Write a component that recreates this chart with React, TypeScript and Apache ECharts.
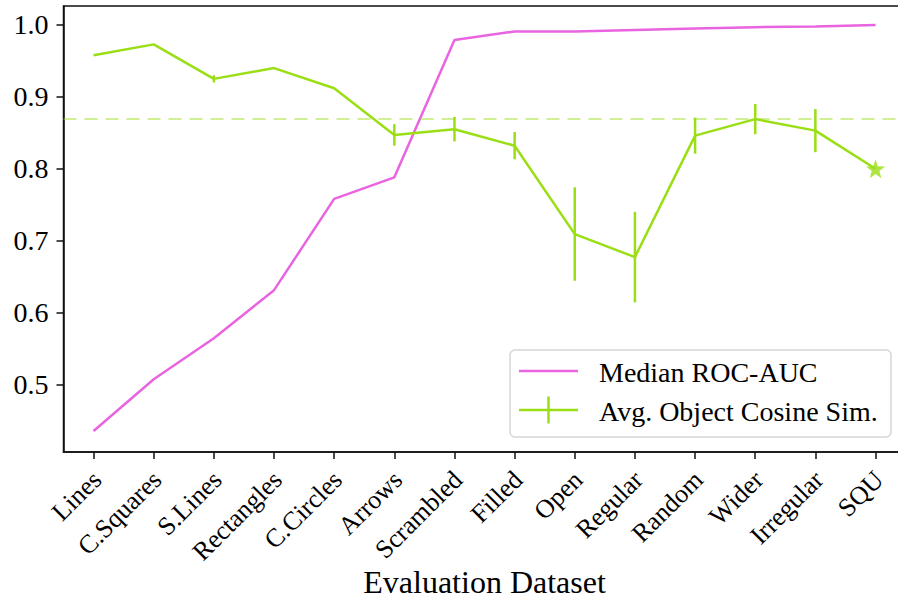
import React, { useEffect, useRef } from "react";
import * as echarts from "echarts";

const categories = [
  "Lines", "C.Squares", "S.Lines", "Rectangles", "C.Circles", "Arrows", "Scrambled",
  "Filled", "Open", "Regular", "Random", "Wider", "Irregular", "SQU",
];
const medianRocAuc = [0.435, 0.507, 0.564, 0.631, 0.758, 0.788, 0.979, 0.991, 0.991, 0.993, 0.995, 0.997, 0.998, 1.0];
const avgCosineSim = [0.958, 0.973, 0.925, 0.94, 0.912, 0.847, 0.855, 0.832, 0.709, 0.677, 0.846, 0.869, 0.853, 0.8];
const cosineSimErr = [0, 0, 0.005, 0, 0, 0.015, 0.017, 0.019, 0.065, 0.063, 0.025, 0.021, 0.03, 0];
const referenceLine = 0.87;
const yTicks = [0.5, 0.6, 0.7, 0.8, 0.9, 1.0];
const seriesNames = ["Median ROC-AUC", "Avg. Object Cosine Sim."];

const PINK = "#e964e0";
const GREEN = "#9ade14";
const FONT = "'Liberation Serif', 'DejaVu Serif', serif";
const STAR = "path://M0,-10 L2.35,-3.24 L9.51,-3.09 L3.8,1.24 L5.88,8.09 L0,4 L-5.88,8.09 L-3.8,1.24 L-9.51,-3.09 L-2.35,-3.24 Z";

export default function App() {
  const ref = useRef<HTMLDivElement>(null);
  useEffect(() => {
    if (!ref.current) return;
    const chart = echarts.init(ref.current, undefined, { renderer: "svg" });
    const last = categories.length - 1;
    const option = {
      animation: false,
      backgroundColor: "#fff",
      grid: {
        left: 63.5, right: 4.4, top: 6, bottom: 147,
        containLabel: false,
        outerBoundsMode: "none",
        show: true, borderColor: "#111", borderWidth: 1.5,
      },
      xAxis: {
        type: "category",
        data: categories,
        boundaryGap: true,
        name: "Evaluation Dataset",
        nameLocation: "middle",
        nameGap: 114,
        nameMoveOverlap: false,
        nameTextStyle: { fontFamily: FONT, fontSize: 32, color: "#000" },
        axisLine: { show: true, lineStyle: { color: "#111", width: 1.5 } },
        axisTick: { show: true, alignWithLabel: true, length: 7, lineStyle: { color: "#111", width: 1.5 } },
        axisLabel: {
          interval: 0, rotate: 45, margin: 27,
          padding: [0, -5, 0, 0],
          fontFamily: FONT, fontSize: 26, color: "#000",
        },
        splitLine: { show: false },
      },
      yAxis: {
        type: "value",
        min: 0.4058,
        max: 1.0264,
        axisLine: { show: true, lineStyle: { color: "#111", width: 1.5 } },
        axisTick: { show: true, length: 7, customValues: yTicks, lineStyle: { color: "#111", width: 1.5 } },
        axisLabel: {
          customValues: yTicks,
          margin: 15,
          fontFamily: FONT, fontSize: 28, color: "#000",
          formatter: (v: number) => v.toFixed(1),
        },
        splitLine: { show: false },
      },
      series: [
        {
          name: seriesNames[0],
          type: "line",
          data: medianRocAuc,
          symbol: "none",
          lineStyle: { color: PINK, width: 2.5 },
          itemStyle: { color: PINK },
          z: 2,
        },
        {
          name: seriesNames[1],
          type: "line",
          data: avgCosineSim,
          symbol: "none",
          lineStyle: { color: GREEN, width: 2.5 },
          itemStyle: { color: GREEN },
          z: 3,
          markLine: {
            silent: true,
            symbol: "none",
            label: { show: false },
            lineStyle: { color: GREEN, opacity: 0.45, type: [13, 8], width: 2 },
            data: [{ yAxis: referenceLine }],
          },
        },
        {
          type: "custom",
          name: "errorbars",
          data: avgCosineSim.map((v, i) => [i, v - cosineSimErr[i], v + cosineSimErr[i]]),
          encode: { x: 0, y: [1, 2] },
          renderItem: (_p: any, api: any) => {
            const i = api.value(0);
            const lo = api.value(1);
            const hi = api.value(2);
            if (hi - lo <= 0) return null;
            const p1 = api.coord([i, lo]);
            const p2 = api.coord([i, hi]);
            return {
              type: "line",
              shape: { x1: p1[0], y1: p1[1], x2: p2[0], y2: p2[1] },
              style: { stroke: GREEN, lineWidth: 2.5 },
            };
          },
          z: 4,
        },
        {
          type: "scatter",
          name: "star",
          data: avgCosineSim.map((v, i) => (i === last ? v : "-")),
          symbol: STAR,
          symbolSize: 19,
          itemStyle: { color: GREEN },
          z: 5,
        },
      ],
      graphic: [
        {
          type: "group",
          z: 100,
          children: [
            {
              type: "rect",
              shape: { x: 510, y: 350, width: 381, height: 87, r: 5 },
              style: { fill: "rgba(255,255,255,0.85)", stroke: "#d6d6d6", lineWidth: 1.5 },
            },
            {
              type: "line",
              shape: { x1: 519, y1: 371, x2: 578, y2: 371 },
              style: { stroke: PINK, lineWidth: 2.5 },
            },
            {
              type: "line",
              shape: { x1: 519, y1: 410, x2: 578, y2: 410 },
              style: { stroke: GREEN, lineWidth: 2.5 },
            },
            {
              type: "line",
              shape: { x1: 548.5, y1: 396.5, x2: 548.5, y2: 423.5 },
              style: { stroke: GREEN, lineWidth: 2.5 },
            },
            {
              type: "text",
              x: 599, y: 372,
              style: { text: seriesNames[0], fontFamily: FONT, fontSize: 28, fill: "#000", verticalAlign: "middle" },
            },
            {
              type: "text",
              x: 599, y: 411,
              style: { text: seriesNames[1], fontFamily: FONT, fontSize: 28, fill: "#000", verticalAlign: "middle" },
            },
          ],
        },
      ],
    };
    chart.setOption(option as any);
    return () => chart.dispose();
  }, []);
  return (
    <div style={{ position: "absolute", left: 0, top: 0, width: 898, height: 599, overflow: "hidden", background: "#fff" }}>
      <div ref={ref} style={{ width: 910, height: 599 }} />
    </div>
  );
}
